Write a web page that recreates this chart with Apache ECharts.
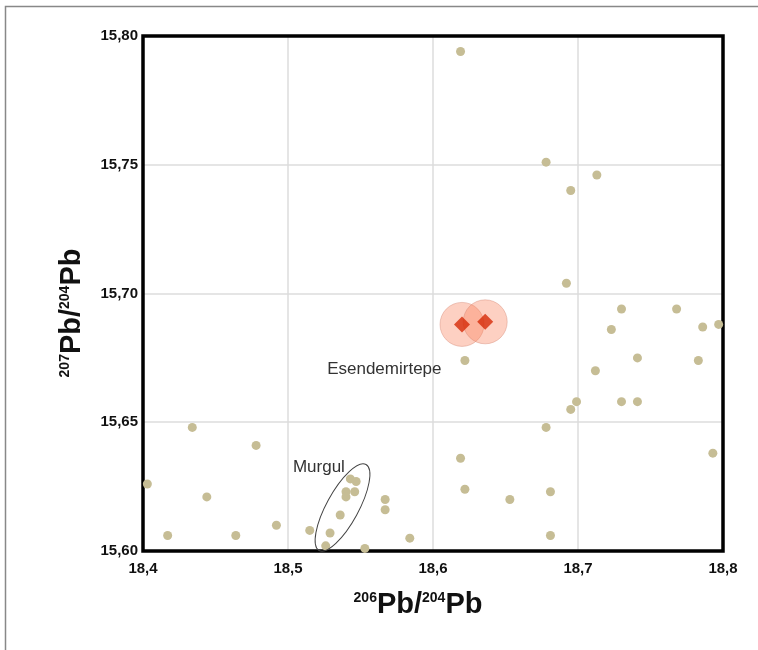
<!DOCTYPE html>
<html>
<head>
<meta charset="utf-8">
<script src="https://cdn.jsdelivr.net/npm/echarts@6/dist/echarts.min.js"></script>
<style>
  html, body { margin: 0; padding: 0; background: #fff; }
  #chart { width: 758px; height: 650px; }
</style>
</head>
<body>
<div id="chart"></div>
<script>
// 206Pb/204Pb and 207Pb/204Pb of the ore samples (tan dots)
const oreX = [18.434, 18.478, 18.403, 18.444, 18.417, 18.464, 18.492, 18.515, 18.529, 18.526,
  18.536, 18.540, 18.540, 18.543, 18.547, 18.546, 18.553, 18.567, 18.567, 18.584,
  18.622, 18.692, 18.730, 18.768, 18.723, 18.786, 18.797, 18.741, 18.783, 18.712,
  18.699, 18.695, 18.730, 18.741, 18.678, 18.619, 18.793, 18.622, 18.653, 18.681,
  18.681, 18.619, 18.678, 18.713, 18.695]
const oreY = [15.648, 15.641, 15.626, 15.621, 15.606, 15.606, 15.610, 15.608, 15.607, 15.602,
  15.614, 15.623, 15.621, 15.628, 15.627, 15.623, 15.601, 15.620, 15.616, 15.605,
  15.674, 15.704, 15.694, 15.694, 15.686, 15.687, 15.688, 15.675, 15.674, 15.670,
  15.658, 15.655, 15.658, 15.658, 15.648, 15.636, 15.638, 15.624, 15.620, 15.623,
  15.606, 15.794, 15.751, 15.746, 15.740]
// Esendemirtepe samples (red diamonds)
const esenX = [18.620, 18.636]
const esenY = [15.688, 15.689]
// text labels and the Murgul field
const labelNames = ['Esendemirtepe', 'Murgul']
const labelX = [18.527, 18.5034]
const labelY = [15.6707, 15.6326]
const murgulCenter = [18.5376, 15.6169]

const xTicks = [18.4, 18.5, 18.6, 18.7, 18.8]
const yTicks = [15.60, 15.65, 15.70, 15.75, 15.80]

const zip = (a, b) => a.map((v, i) => [v, b[i]])
const tickFont = 'Liberation Sans, Arial, sans-serif'

const chart = echarts.init(document.getElementById('chart'))
const option = {
  animation: false,
  grid: { left: 143, top: 36, width: 580, height: 515 },
  xAxis: {
    type: 'value', min: xTicks[0], max: xTicks[xTicks.length - 1], interval: 0.1,
    axisLine: { show: false }, axisTick: { show: false },
    splitLine: { showMinLine: false, showMaxLine: false, lineStyle: { color: '#dcdcdc', width: 1.5 } },
    axisLabel: {
      margin: 10, color: '#111', fontSize: 15, fontWeight: 'bold', fontFamily: tickFont,
      formatter: v => v.toFixed(1).replace('.', ',')
    }
  },
  yAxis: {
    type: 'value', min: yTicks[0], max: yTicks[yTicks.length - 1], interval: 0.05,
    axisLine: { show: false }, axisTick: { show: false },
    splitLine: { showMinLine: false, showMaxLine: false, lineStyle: { color: '#dcdcdc', width: 1.5 } },
    axisLabel: {
      margin: 5, color: '#111', fontSize: 15, fontWeight: 'bold', fontFamily: tickFont,
      formatter: v => v.toFixed(2).replace('.', ',')
    }
  },
  series: [
    {
      type: 'scatter',
      data: zip(oreX, oreY),
      symbolSize: 9,
      itemStyle: { color: '#c6bd95', opacity: 1 }
    },
    {
      type: 'scatter',
      data: zip(esenX, esenY),
      symbolSize: 44,
      itemStyle: { color: 'rgba(249,125,85,0.45)', borderColor: 'rgba(210,130,110,0.5)', borderWidth: 1 }
    },
    {
      type: 'scatter',
      data: zip(esenX, esenY),
      symbol: 'diamond',
      symbolSize: [16, 16],
      itemStyle: { color: '#d62a08' }
    }
  ]
}
chart.setOption(option)

const title = (a, b) => '{sup|' + a + '}{b|Pb/}{sup|' + b + '}{b|Pb}'
const titleRich = {
  b: { fontSize: 29, fontWeight: 'bold', fontFamily: tickFont, fill: '#111', color: '#111' },
  sup: { fontSize: 14, fontWeight: 'bold', fontFamily: tickFont, fill: '#111', color: '#111', padding: [0, 0, 14, 0] }
}

// plot frame, drawn over the grid lines but under the marks
const tl = chart.convertToPixel({ gridIndex: 0 }, [xTicks[0], yTicks[yTicks.length - 1]])
const br = chart.convertToPixel({ gridIndex: 0 }, [xTicks[xTicks.length - 1], yTicks[0]])

const graphics = [
  {
    type: 'rect', silent: true, z: 0,
    shape: { x: 5.5, y: 6.5, width: 900, height: 900 },
    style: { fill: 'none', stroke: '#888', lineWidth: 1.5 }
  },
  {
    type: 'rect', silent: true, z: 1,
    shape: { x: tl[0], y: tl[1], width: br[0] - tl[0], height: br[1] - tl[1] },
    style: { fill: 'none', stroke: '#000', lineWidth: 3.5 }
  },
  {
    type: 'text', x: 418, y: 605, z: 10,
    style: { text: title('206', '204'), rich: titleRich, align: 'center', verticalAlign: 'middle' }
  },
  {
    type: 'text', x: 72, y: 313, rotation: Math.PI / 2, z: 10,
    style: { text: title('207', '204'), rich: titleRich, align: 'center', verticalAlign: 'middle' }
  }
]
labelNames.forEach((name, i) => {
  const p = chart.convertToPixel({ gridIndex: 0 }, [labelX[i], labelY[i]])
  graphics.push({
    type: 'text', x: p[0], y: p[1], z: 10,
    style: { text: name, fontSize: 17, fontFamily: tickFont, fill: '#333', align: 'left', verticalAlign: 'middle' }
  })
})
const c = chart.convertToPixel({ gridIndex: 0 }, murgulCenter)
graphics.push({
  type: 'ellipse', x: c[0], y: c[1], rotation: -0.5, z: 10,
  shape: { cx: 0, cy: 0, rx: 16, ry: 49 },
  style: { fill: 'none', stroke: '#444', lineWidth: 1 }
})
chart.setOption({ graphic: graphics })
</script>
</body>
</html>
